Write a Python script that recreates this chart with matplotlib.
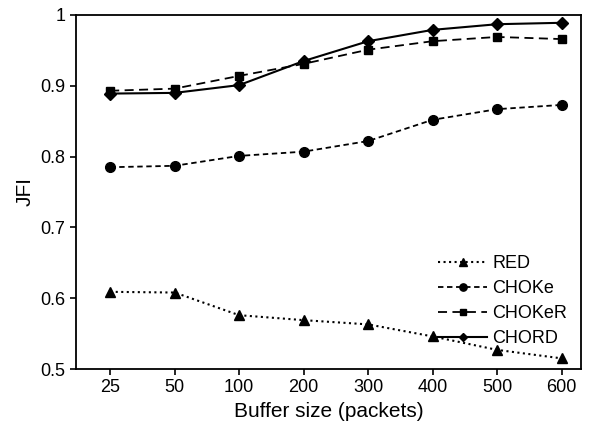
import numpy as np
import matplotlib
matplotlib.use("Agg")
import matplotlib.pyplot as plt

plt.rcParams['font.family'] = ['Liberation Sans', 'DejaVu Sans']

buffer_sizes = ['25', '50', '100', '200', '300', '400', '500', '600']
red = [0.609, 0.608, 0.576, 0.569, 0.563, 0.546, 0.527, 0.515]
choke = [0.785, 0.787, 0.801, 0.807, 0.822, 0.852, 0.867, 0.873]
choker = [0.893, 0.896, 0.914, 0.931, 0.951, 0.963, 0.969, 0.966]
chord = [0.889, 0.890, 0.901, 0.935, 0.963, 0.979, 0.987, 0.989]

fig = plt.figure(figsize=(6.06, 4.29), dpi=100)
ax = fig.add_axes([76 / 606, 1 - 369 / 429, (581 - 76) / 606, (369 - 15) / 429])

x = np.arange(len(buffer_sizes))
ax.plot(x, red, color='black', linestyle=':', lw=1.5, marker='^', ms=7, label='RED')
ax.plot(x, choke, color='black', linestyle='--', lw=1.3, dashes=(3, 2), marker='o', ms=7, label='CHOKe')
ax.plot(x, choker, color='black', linestyle='--', lw=1.3, dashes=(5, 3), marker='s', ms=6, label='CHOKeR')
ax.plot(x, chord, color='black', linestyle='-', lw=1.5, marker='D', ms=6, label='CHORD')

ax.set_xlim(-0.53, 7.3)
ax.set_ylim(0.5, 1.0)
ax.set_xticks(x)
ax.set_xticklabels(buffer_sizes)
ax.set_yticks([0.5, 0.6, 0.7, 0.8, 0.9, 1.0])
ax.set_yticklabels(['0.5', '0.6', '0.7', '0.8', '0.9', '1'])
ax.tick_params(labelsize=13, direction='out', length=4, width=1.2)
for s in ax.spines.values():
    s.set_linewidth(1.3)

ax.set_xlabel('Buffer size (packets)', fontsize=15)
ax.set_ylabel('JFI', fontsize=15)

ax.legend(loc='lower right', bbox_to_anchor=(1.005, 0.015), frameon=False, fontsize=13,
          handlelength=2.7, handletextpad=0.3, labelspacing=0.45, markerscale=0.75)

fig.savefig('out.png', dpi=100)
